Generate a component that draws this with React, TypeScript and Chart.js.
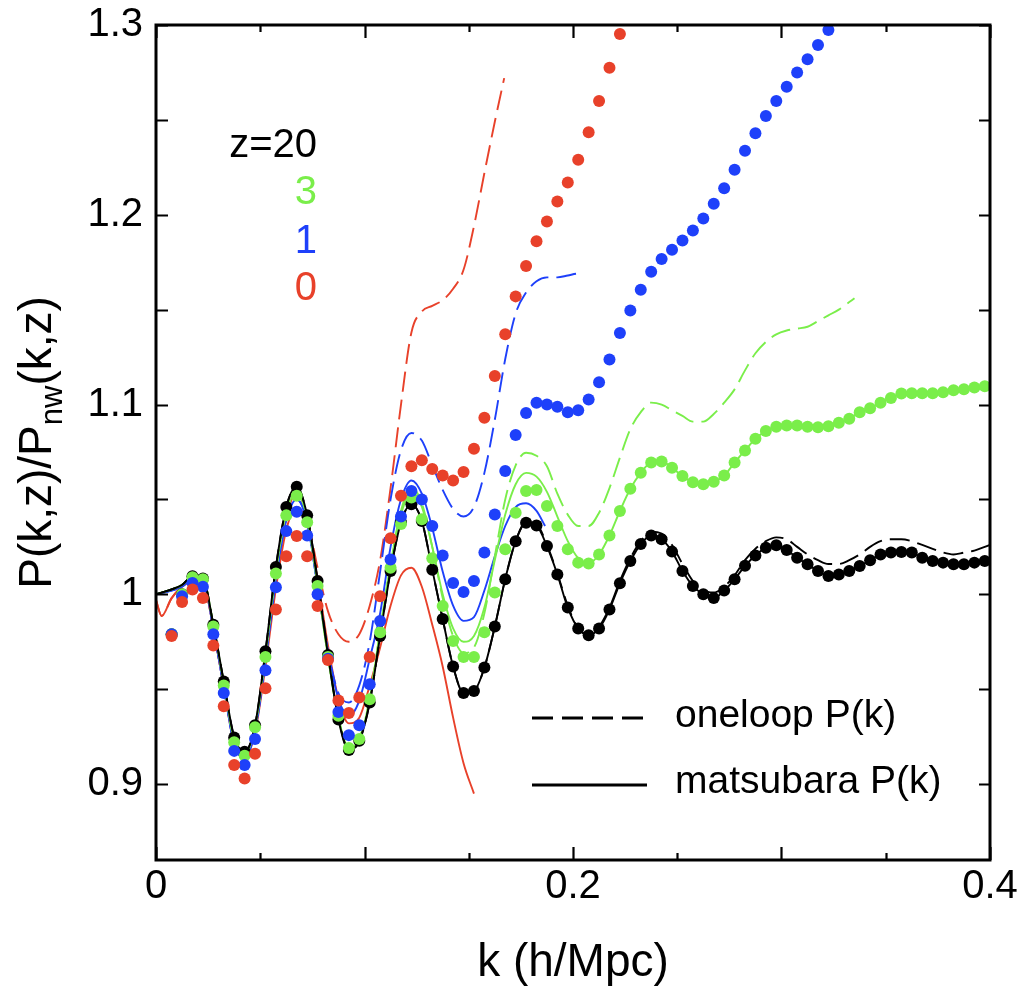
import React, { useEffect, useRef } from 'react';
import { Chart, registerables } from 'chart.js';

Chart.register(...registerables);

const FONT = '"Liberation Sans", Arial, Helvetica, sans-serif';
const BLACK = '#000000';
const GREEN = '#7aee4a';
const BLUE = '#1e40fa';
const RED = '#e8412a';

// k positions of the simulation points (h/Mpc)
const kDots = [
  0.0075, 0.0125, 0.0175, 0.0225, 0.0275, 0.0325, 0.0375, 0.0425, 0.0475, 0.0525,
  0.0575, 0.0625, 0.0675, 0.0725, 0.0775, 0.0825, 0.0875, 0.0925, 0.0975, 0.1025,
  0.1075, 0.1125, 0.1175, 0.1225, 0.1275, 0.1325, 0.1375, 0.1425, 0.1475, 0.1525,
  0.1575, 0.1625, 0.1675, 0.1725, 0.1775, 0.1825, 0.1875, 0.1925, 0.1975, 0.2025,
  0.2075, 0.2125, 0.2175, 0.2225, 0.2275, 0.2325, 0.2375, 0.2425, 0.2475, 0.2525,
  0.2575, 0.2625, 0.2675, 0.2725, 0.2775, 0.2825, 0.2875, 0.2925, 0.2975, 0.3025,
  0.3075, 0.3125, 0.3175, 0.3225, 0.3275, 0.3325, 0.3375, 0.3425, 0.3475, 0.3525,
  0.3575, 0.3625, 0.3675, 0.3725, 0.3775, 0.3825, 0.3875, 0.3925, 0.3975,
];

// simulation points, z = 20
const dotsZ20 = [
  0.979, 1.000, 1.0095, 1.0084, 0.984, 0.954, 0.9246, 0.917, 0.931, 0.970,
  1.0144, 1.046, 1.0567, 1.0416, 1.007, 0.968, 0.934, 0.918, 0.9228, 0.943,
  0.978, 1.0123, 1.038, 1.0474, 1.0386, 1.013, 0.987, 0.962, 0.948, 0.949,
  0.9614, 0.983, 1.008, 1.028, 1.0377, 1.0363, 1.0254, 1.0105, 0.993, 0.982,
  0.9784, 0.982, 0.992, 1.0058, 1.0175, 1.0265, 1.031, 1.029, 1.0225, 1.0123,
  1.0044, 1.000, 0.998, 1.002, 1.0079, 1.015, 1.0205, 1.0246, 1.0258, 1.0233,
  1.0193, 1.0158, 1.0123, 1.0096, 1.0105, 1.0123, 1.0149, 1.018, 1.021, 1.022,
  1.0223, 1.022, 1.0193, 1.0175, 1.0167, 1.0158, 1.0158, 1.0167, 1.0175,
];

// simulation points, z = 3
const dotsZ3 = [
  0.979, 1.000, 1.009, 1.008, 0.983, 0.952, 0.922, 0.915, 0.930, 0.967,
  1.011, 1.0416, 1.052, 1.038, 1.0044, 0.967, 0.936, 0.919, 0.9237, 0.9447,
  0.980, 1.014, 1.037, 1.051, 1.0395, 1.019, 0.9939, 0.9754, 0.967, 0.967,
  0.980, 1.001, 1.0237, 1.043, 1.0544, 1.055, 1.0465, 1.036, 1.0237, 1.0167,
  1.0163, 1.021, 1.031, 1.0439, 1.0556, 1.064, 1.0695, 1.070, 1.0667, 1.0623,
  1.059, 1.058, 1.0593, 1.0626, 1.0694, 1.0758, 1.082, 1.086, 1.0883, 1.089,
  1.089, 1.0883, 1.088, 1.0886, 1.0904, 1.0925, 1.096, 1.098, 1.101, 1.1035,
  1.1058, 1.106, 1.106, 1.106, 1.1065, 1.1075, 1.108, 1.109, 1.1096,
];

// simulation points, z = 1
const dotsZ1 = [
  0.979, 0.999, 1.006, 1.004, 0.979, 0.948, 0.9175, 0.910, 0.9237, 0.960,
  1.0037, 1.0333, 1.0435, 1.031, 1.000, 0.966, 0.938, 0.9258, 0.931, 0.9526,
  0.986, 1.0184, 1.041, 1.0544, 1.050, 1.036, 1.0205, 1.006, 1.0012, 1.007,
  1.022, 1.042, 1.065, 1.084, 1.0956, 1.1009, 1.100, 1.0988, 1.096, 1.097,
  1.1026, 1.1117, 1.1237, 1.1377, 1.1496, 1.1605, 1.170, 1.1767, 1.1816, 1.1865,
  1.1917, 1.198, 1.2058, 1.214, 1.2237, 1.2337, 1.243, 1.252, 1.260, 1.2675,
  1.275, 1.282, 1.2895, 1.2974,
];

// simulation points, z = 0
const dotsZ0 = [
  0.978, 0.996, 1.0026, 0.998, 0.973, 0.941, 0.910, 0.903, 0.916, 0.9505,
  0.992, 1.020, 1.0307, 1.020, 0.9939, 0.9654, 0.944, 0.9374, 0.9456, 0.967,
  0.999, 1.0295, 1.052, 1.0675, 1.0707, 1.066, 1.0626, 1.060, 1.0644, 1.0767,
  1.093, 1.115, 1.137, 1.157, 1.173, 1.186, 1.1965, 1.207, 1.217, 1.229,
  1.2435, 1.260, 1.2775, 1.2953,
];

// k grid of the theory curves
const kCurve = [
  0, 0.0125, 0.0175, 0.0225, 0.0275, 0.0325, 0.0375, 0.0425, 0.0475, 0.0525,
  0.0575, 0.0625, 0.0675, 0.0725, 0.0775, 0.0825, 0.0875, 0.0925, 0.0975, 0.1025,
  0.1075, 0.1125, 0.1175, 0.1225, 0.1275, 0.1325, 0.1375, 0.1425, 0.1475, 0.1525,
  0.1575, 0.1625, 0.1675, 0.1725, 0.1775, 0.1825, 0.1875, 0.1925, 0.1975, 0.2025,
  0.2075, 0.2125, 0.2175, 0.2225, 0.2275, 0.2325, 0.2375, 0.2425, 0.2475, 0.2525,
  0.2575, 0.2625, 0.2675, 0.2725, 0.2775, 0.2825, 0.2875, 0.2925, 0.2975, 0.3025,
  0.3075, 0.3125, 0.3175, 0.3225, 0.3275, 0.3325, 0.3375, 0.3425, 0.3475, 0.3525,
  0.3575, 0.3625, 0.3675, 0.3725, 0.3775, 0.3825, 0.3875, 0.3925, 0.3975, 0.4,
];

const matsubaraZ20 = [
  1.000, 1.005, 1.0095, 1.0084, 0.984, 0.954, 0.9246, 0.917, 0.931, 0.970,
  1.0144, 1.046, 1.0567, 1.0416, 1.007, 0.968, 0.934, 0.918, 0.9228, 0.943,
  0.978, 1.0123, 1.038, 1.0474, 1.0386, 1.013, 0.987, 0.962, 0.948, 0.949,
  0.9614, 0.983, 1.008, 1.028, 1.0377, 1.0363, 1.0254, 1.0105, 0.993, 0.982,
  0.9784, 0.982, 0.992, 1.0058, 1.0175, 1.0265, 1.031, 1.029, 1.0225, 1.0123,
  1.0044, 1.000, 0.998, 1.002, 1.0079, 1.015, 1.0205, 1.0246, 1.0258, 1.0233,
  1.0193, 1.0158, 1.0123, 1.0096, 1.0105, 1.0123, 1.0149, 1.018, 1.021, 1.022,
  1.0223, 1.022, 1.0193, 1.0175, 1.0167, 1.0158, 1.0158, 1.0167, 1.0175, 1.018,
];

const oneloopZ20 = [
  1.000, 1.005, 1.0095, 1.0084, 0.984, 0.954, 0.925, 0.917, 0.931, 0.970,
  1.0144, 1.046, 1.0567, 1.0416, 1.008, 0.969, 0.935, 0.918, 0.9225, 0.943,
  0.978, 1.0123, 1.038, 1.0474, 1.0386, 1.013, 0.987, 0.962, 0.948, 0.949,
  0.9614, 0.983, 1.008, 1.028, 1.038, 1.037, 1.026, 1.011, 0.994, 0.982,
  0.979, 0.983, 0.993, 1.007, 1.019, 1.028, 1.033, 1.032, 1.026, 1.016,
  1.007, 1.002, 1.001, 1.004, 1.010, 1.018, 1.024, 1.028, 1.030, 1.029,
  1.025, 1.021, 1.018, 1.016, 1.016, 1.018, 1.021, 1.025, 1.028, 1.029,
  1.029, 1.028, 1.026, 1.024, 1.022, 1.021, 1.022, 1.023, 1.025, 1.026,
];

const matsubaraZ3 = [
  1.000, 1.005, 1.0095, 1.0084, 0.984, 0.953, 0.923, 0.916, 0.930, 0.968,
  1.012, 1.043, 1.054, 1.040, 1.005, 0.967, 0.935, 0.919, 0.924, 0.945,
  0.981, 1.016, 1.042, 1.054, 1.046, 1.025, 1.000, 0.982, 0.975, 0.978,
  0.993, 1.018, 1.042, 1.058, 1.064, 1.062, 1.054, 1.041, 1.028, 1.019,
  1.0163, 1.021, 1.031, 1.0439, 1.0556, 1.064, 1.0695, 1.070, 1.0667, 1.0623,
  1.059, 1.058, 1.0593, 1.0626, 1.0694, 1.0758, 1.082, 1.086, 1.0883, 1.089,
  1.089, 1.0883, 1.088, 1.0886, 1.0904, 1.0925, 1.096, 1.098, 1.101, 1.1035,
  1.1058, 1.106, 1.106, 1.106, 1.1065, 1.1075, 1.108, 1.109, 1.1096, 1.110,
];

const kOneloopZ3End = [0.335];
const oneloopZ3 = [
  1.000, 1.005, 1.0095, 1.0084, 0.984, 0.953, 0.923, 0.916, 0.930, 0.968,
  1.012, 1.043, 1.054, 1.040, 1.005, 0.967, 0.935, 0.919, 0.924, 0.945,
  0.981, 1.016, 1.044, 1.056, 1.048, 1.025, 0.998, 0.978, 0.969, 0.972,
  0.990, 1.020, 1.050, 1.068, 1.0746, 1.073, 1.0675, 1.053, 1.042, 1.036,
  1.036, 1.043, 1.056, 1.072, 1.087, 1.096, 1.101, 1.100, 1.097, 1.094,
  1.091, 1.091, 1.095, 1.101, 1.108, 1.118, 1.127, 1.133, 1.137, 1.139,
  1.140, 1.141, 1.144, 1.147, 1.150, 1.154, 1.156,
];

const kMatsubaraZ1End = [0.1866];
const matsubaraZ1 = [
  1.000, 1.004, 1.008, 1.007, 0.982, 0.951, 0.921, 0.914, 0.928, 0.965,
  1.008, 1.039, 1.050, 1.038, 1.004, 0.970, 0.945, 0.936, 0.944, 0.966,
  0.990, 1.025, 1.050, 1.060, 1.053, 1.035, 1.012, 0.994, 0.986, 0.988,
  1.002, 1.020, 1.036, 1.046, 1.048, 1.044, 1.036,
];

const kOneloopZ1End = [0.2042];
const oneloopZ1 = [
  1.000, 1.004, 1.008, 1.007, 0.982, 0.951, 0.921, 0.914, 0.928, 0.965,
  1.008, 1.039, 1.050, 1.038, 1.004, 0.970, 0.948, 0.943, 0.952, 0.975,
  1.012, 1.050, 1.076, 1.085, 1.081, 1.068, 1.055, 1.045, 1.041, 1.046,
  1.064, 1.092, 1.124, 1.148, 1.159, 1.165, 1.167, 1.167, 1.168, 1.169, 1.169,
];

const kZ0Start = [0, 0.0027];
const matsubaraZ0 = [
  0.997, 0.9886, 0.998, 1.004, 1.007, 1.006, 0.982, 0.951, 0.921, 0.914,
  0.927, 0.962, 1.003, 1.034, 1.046, 1.037, 1.008, 0.973, 0.945, 0.932,
  0.935, 0.952, 0.972, 0.994, 1.010, 1.014, 1.004, 0.984, 0.962, 0.935,
  0.911, 0.895,
];

const kOneloopZ0End = [0.167];
const oneloopZ0 = [
  0.997, 0.9886, 0.998, 1.004, 1.007, 1.006, 0.982, 0.951, 0.922, 0.915,
  0.929, 0.966, 1.008, 1.040, 1.054, 1.040, 1.014, 0.991, 0.979, 0.975,
  0.979, 0.994, 1.018, 1.056, 1.100, 1.138, 1.149, 1.152, 1.155, 1.161,
  1.171, 1.194, 1.222, 1.249, 1.272,
];

const xTickValues = [0, 0.1, 0.2, 0.3, 0.4];
const xTickLabels = ['0', '', '0.2', '', '0.4'];
const xMinorTicks = [0.05, 0.15, 0.25, 0.35];
const yTickValues = [0.9, 1.0, 1.1, 1.2, 1.3];
const yTickLabels = ['0.9', '1', '1.1', '1.2', '1.3'];
const yMinorTicks = [0.95, 1.05, 1.15, 1.25];

const redshiftLabels = ['z=20', '3', '1', '0'];
const redshiftColors = [BLACK, GREEN, BLUE, RED];
const styleLabels = ['oneloop P(k)', 'matsubara P(k)'];

const pts = (ks: number[], vs: number[]) => vs.map((v, i) => ({ x: ks[i], y: v }));

const dotSet = (data: number[], color: string) => ({
  type: 'scatter' as const,
  data: pts(kDots, data),
  showLine: false,
  pointRadius: 6,
  pointHoverRadius: 6,
  pointBorderWidth: 0,
  pointBackgroundColor: color,
  backgroundColor: color,
  borderColor: color,
});

const lineSet = (ks: number[], data: number[], color: string, dashed: boolean) => ({
  type: 'line' as const,
  data: pts(ks, data),
  showLine: true,
  pointRadius: 0,
  borderWidth: 1.9,
  borderColor: color,
  backgroundColor: color,
  borderDash: dashed ? [20, 8] : [],
  cubicInterpolationMode: 'monotone' as const,
  fill: false,
});

const decorPlugin = {
  id: 'decor',
  afterDraw(chart: any) {
    const { ctx, chartArea: a, scales } = chart;
    const xs = scales.x;
    const ys = scales.y;
    ctx.save();
    ctx.strokeStyle = '#000';
    ctx.setLineDash([]);
    ctx.lineWidth = 3;
    ctx.strokeRect(a.left, a.top, a.right - a.left, a.bottom - a.top);
    ctx.lineWidth = 2.2;
    ctx.beginPath();
    const xt = (vals: number[], len: number) => {
      vals.forEach((v) => {
        const p = Math.round(xs.getPixelForValue(v)) + 0.5;
        ctx.moveTo(p, a.bottom);
        ctx.lineTo(p, a.bottom - len);
        ctx.moveTo(p, a.top);
        ctx.lineTo(p, a.top + len);
      });
    };
    xt(xTickValues, 13);
    xt(xMinorTicks, 7);
    [...yTickValues, ...yMinorTicks].forEach((v) => {
      const p = Math.round(ys.getPixelForValue(v)) + 0.5;
      ctx.moveTo(a.left, p);
      ctx.lineTo(a.left + 12, p);
      ctx.moveTo(a.right, p);
      ctx.lineTo(a.right - 11, p);
    });
    ctx.stroke();

    // x-axis title
    ctx.fillStyle = '#000';
    ctx.font = `46px ${FONT}`;
    ctx.textAlign = 'center';
    ctx.textBaseline = 'alphabetic';
    ctx.fillText('k (h/Mpc)', (a.left + a.right) / 2, 976);

    // y-axis title with subscript
    const big = `46px ${FONT}`;
    const small = `31px ${FONT}`;
    const parts = [
      { t: 'P(k,z)/P', f: big, dy: 0 },
      { t: 'nw', f: small, dy: 11 },
      { t: '(k,z)', f: big, dy: 0 },
    ];
    let total = 0;
    parts.forEach((p) => {
      ctx.font = p.f;
      total += ctx.measureText(p.t).width;
    });
    ctx.save();
    ctx.translate(51, (a.top + a.bottom) / 2);
    ctx.rotate(-Math.PI / 2);
    ctx.textAlign = 'left';
    let cx = -total / 2;
    parts.forEach((p) => {
      ctx.font = p.f;
      ctx.fillText(p.t, cx, p.dy);
      cx += ctx.measureText(p.t).width;
    });
    ctx.restore();

    // redshift legend
    ctx.font = `40px ${FONT}`;
    ctx.textAlign = 'right';
    const zBase = [157, 204, 253, 300];
    redshiftLabels.forEach((t, i) => {
      ctx.fillStyle = redshiftColors[i];
      ctx.fillText(t, 317, zBase[i]);
    });

    // line-style legend
    ctx.strokeStyle = '#000';
    ctx.lineWidth = 3;
    ctx.beginPath();
    ctx.setLineDash([21, 9]);
    ctx.moveTo(532, 718);
    ctx.lineTo(647, 718);
    ctx.stroke();
    ctx.beginPath();
    ctx.setLineDash([]);
    ctx.moveTo(532, 785);
    ctx.lineTo(647, 785);
    ctx.stroke();
    ctx.fillStyle = '#000';
    ctx.font = `39px ${FONT}`;
    ctx.textAlign = 'left';
    ctx.fillText(styleLabels[0], 675, 727);
    ctx.fillText(styleLabels[1], 675, 793);
    ctx.restore();
  },
};

const zeroPad = (s: any) => {
  s.paddingTop = 0;
  s.paddingBottom = 0;
  s.paddingLeft = 0;
  s.paddingRight = 0;
};

export default function App() {
  const ref = useRef<HTMLCanvasElement>(null);
  useEffect(() => {
    document.body.style.margin = '0';
    document.body.style.overflow = 'hidden';
    const kFull = kCurve;
    const datasets: any[] = [
      dotSet(dotsZ0, RED),
      dotSet(dotsZ1, BLUE),
      dotSet(dotsZ3, GREEN),
      dotSet(dotsZ20, BLACK),
      lineSet(kFull, matsubaraZ20, BLACK, false),
      lineSet(kFull, oneloopZ20, BLACK, true),
      lineSet([...kFull.slice(0, 66), ...kOneloopZ3End], oneloopZ3, GREEN, true),
      lineSet(kFull, matsubaraZ3, GREEN, false),
      lineSet([...kFull.slice(0, 40), ...kOneloopZ1End], oneloopZ1, BLUE, true),
      lineSet([...kFull.slice(0, 36), ...kMatsubaraZ1End], matsubaraZ1, BLUE, false),
      lineSet([...kZ0Start, ...kDots.slice(0, 32), ...kOneloopZ0End], oneloopZ0, RED, true),
      lineSet([...kZ0Start, ...kDots.slice(0, 30)], matsubaraZ0, RED, false),
    ];
    const chart = new Chart(ref.current as HTMLCanvasElement, {
      type: 'scatter',
      data: { datasets },
      options: {
        responsive: false,
        maintainAspectRatio: false,
        animation: false,
        devicePixelRatio: 1,
        layout: { padding: { top: 25, right: 31, left: 0, bottom: 0 } },
        plugins: { legend: { display: false }, tooltip: { enabled: false } },
        scales: {
          x: {
            type: 'linear',
            min: 0,
            max: 0.4,
            afterBuildTicks: (s: any) => {
              s.ticks = xTickValues.map((v) => ({ value: v }));
            },
            afterFit: (s: any) => {
              s.height = 130;
              zeroPad(s);
            },
            grid: { display: false, drawTicks: false },
            border: { display: false },
            ticks: {
              autoSkip: false,
              maxRotation: 0,
              padding: 3,
              color: '#000',
              font: { family: FONT, size: 40 },
              callback: (_v: any, i: number) => xTickLabels[i],
            },
          },
          y: {
            type: 'linear',
            min: 0.86,
            max: 1.3,
            afterBuildTicks: (s: any) => {
              s.ticks = yTickValues.map((v) => ({ value: v }));
            },
            afterFit: (s: any) => {
              s.width = 156;
              zeroPad(s);
            },
            grid: { display: false, drawTicks: false },
            border: { display: false },
            ticks: {
              autoSkip: false,
              padding: 13,
              color: '#000',
              font: { family: FONT, size: 40 },
              callback: (_v: any, i: number) => yTickLabels[i],
            },
          },
        },
      },
      plugins: [decorPlugin],
    } as any);
    return () => chart.destroy();
  }, []);
  return (
    <canvas
      ref={ref}
      width={1021}
      height={990}
      style={{ display: 'block', width: '1021px', height: '990px' }}
    />
  );
}
